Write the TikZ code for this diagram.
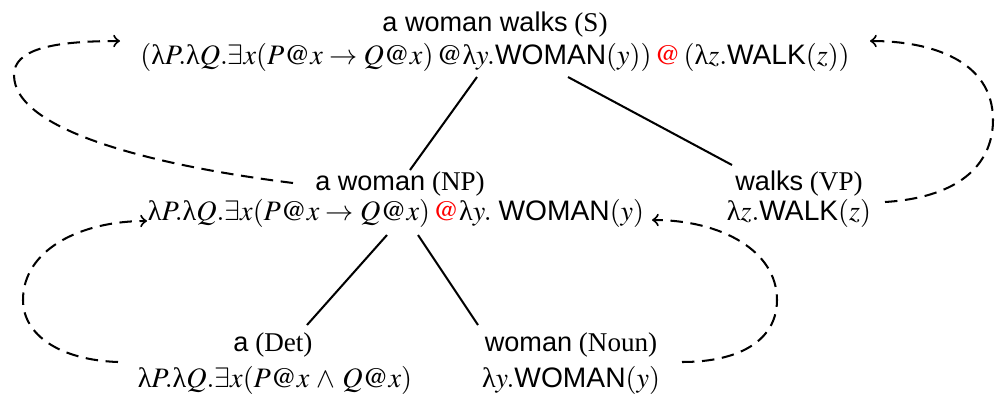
\documentclass[tikz,border=0pt]{standalone}
\usepackage{mathptmx}
\usepackage{fontspec}
\setmainfont{Liberation Serif}
\setsansfont{Liberation Sans}
\usetikzlibrary{calc}
\newcommand{\lam}{\textrm{λ}}
\begin{document}
\begin{tikzpicture}[x=0.369pt,y=-0.369pt,
  lab/.style={inner sep=0pt,anchor=base},
  form/.style={lab,font=\fontsize{10.4pt}{12pt}\selectfont},
  tree/.style={line width=0.75pt},
  link/.style={line width=0.75pt,dash pattern=on 4.6pt off 2.8pt,->,>=to}]
\useasboundingbox (0,0) rectangle (995,397);
% labels and formulas
\node[lab] (lbS) at (495,31) {\textsf{a woman walks} (S)};
\node[form] (fS) at (495,64) {$(\lam P.\lam Q.\exists x(P@x\to Q@x)\,@\lam y.\textsf{WOMAN}(y))\,\textcolor{red}{@}\,(\lam z.\textsf{WALK}(z))$};
\node[lab] (lbNP) at (400,190) {\textsf{a woman} (NP)};
\node[form] (fNP) at (396,220) {$\lam P.\lam Q.\exists x(P@x\to Q@x)\,\textcolor{red}{@}\lam y.\ \textsf{WOMAN}(y)$};
\node[lab] (lbVP) at (799,190) {\textsf{walks} (VP)};
\node[form] (fVP) at (799,220) {$\lam z.\textsf{WALK}(z)$};
\node[lab] (lbDet) at (273,351) {\textsf{a} (Det)};
\node[form] (fDet) at (275,387) {$\lam P.\lam Q.\exists x(P@x\mathbin{\,\wedge\,}Q@x)$};
\node[lab] (lbN) at (571,351) {\textsf{woman} (Noun)};
\node[form] (fN) at (571,387) {$\lam y.\textsf{WOMAN}(y)$};
% tree lines
\draw[tree] ($(fS.base)+(-18,13)$) -- ($(lbNP.base)+(10,-20)$);
\draw[tree] ($(fS.base)+(73,13)$) -- ($(lbVP.base)+(-67,-25)$);
\draw[tree] ($(fNP.base)+(-9,15)$) -- ($(lbDet.base)+(34,-26)$);
\draw[tree] ($(fNP.base)+(22,15)$) -- ($(lbN.base)+(-93,-26)$);
% dashed links
\draw[link] ($(lbNP.base)+(-107,-7)$) .. controls (150,165) and (14,130) .. (14,75)
  .. controls (14,50) and (50,41) .. ($(fS.base)+(-375,-23)$);
\draw[link] ($(lbVP.base)+(86,12)$) .. controls (965,197) and (993,160) .. (993,120)
  .. controls (993,60) and (930,41) .. ($(fS.base)+(375,-23)$);
\draw[link] ($(lbDet.base)+(-155,11)$) .. controls (60,360) and (23,335) .. (23,300)
  .. controls (23,250) and (80,221) .. ($(fNP.base)+(-249,1)$);
\draw[link] ($(lbN.base)+(111,11)$) .. controls (740,362) and (777,340) .. (777,300)
  .. controls (777,250) and (720,220) .. ($(fNP.base)+(256,0)$);
\end{tikzpicture}
\end{document}
